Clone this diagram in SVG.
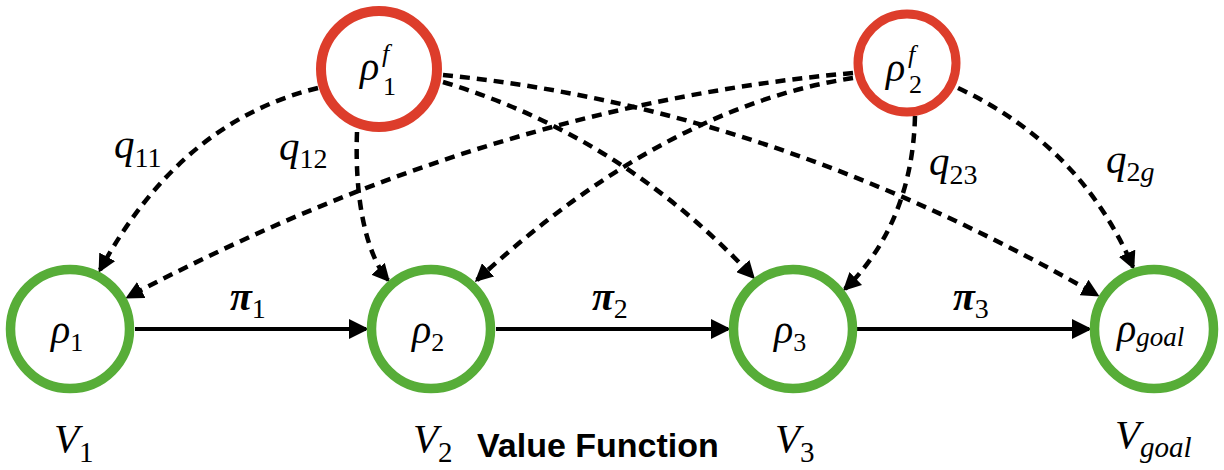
<svg xmlns="http://www.w3.org/2000/svg" width="1224" height="470" viewBox="0 0 1224 470">
<defs>
<style>
.red{fill:#fff;stroke:#DD3D2B;stroke-width:10}
.green{fill:#fff;stroke:#57AD38;stroke-width:9.5}
.dash{fill:none;stroke:#000;stroke-width:4.5;stroke-dasharray:10 7}
.solid{fill:none;stroke:#000;stroke-width:4}
.m{font-family:"Liberation Serif","Times New Roman",serif;font-style:italic;fill:#000}
.n{font-style:normal}
.b{font-weight:bold}
.vf{font-family:"Liberation Sans",Arial,sans-serif;font-weight:bold;font-size:34px;fill:#000}
</style>
<marker id="ad" markerUnits="userSpaceOnUse" viewBox="0 0 18 18" markerWidth="18" markerHeight="18" refX="15" refY="9" orient="auto">
<path d="M0,0 L18,9 L0,18 z" fill="#000"/>
</marker>
<marker id="as" markerUnits="userSpaceOnUse" viewBox="0 0 20 20" markerWidth="20" markerHeight="20" refX="17" refY="10" orient="auto">
<path d="M0,0 L20,10 L0,20 z" fill="#000"/>
</marker>
</defs>
<rect width="1224" height="470" fill="#fff"/>

<g id="edges">
<path class="solid" d="M135,329 H366" marker-end="url(#as)"/>
<path class="solid" d="M496,329 H728" marker-end="url(#as)"/>
<path class="solid" d="M857,329 H1089" marker-end="url(#as)"/>
<path class="dash" d="M318,88 Q181,121 100,270" marker-end="url(#ad)"/>
<path class="dash" d="M357,132 C354,215 372,262 388,280" marker-end="url(#ad)"/>
<path class="dash" d="M443,82 Q622,136 753,277" marker-end="url(#ad)"/>
<path class="dash" d="M443,75 Q770,107 1097,295" marker-end="url(#ad)"/>
<path class="dash" d="M853,73 Q490,105 128,297" marker-end="url(#ad)"/>
<path class="dash" d="M853,78 Q665,107 477,280" marker-end="url(#ad)"/>
<path class="dash" d="M915,116 C913,200 880,255 845,289" marker-end="url(#ad)"/>
<path class="dash" d="M958,88 Q1080,145 1133,267" marker-end="url(#ad)"/>
<text class="m b" x="230" y="310" font-size="40">π<tspan class="n" font-weight="normal" font-size="28" dy="8">1</tspan></text>
<text class="m b" x="592" y="310" font-size="40">π<tspan class="n" font-weight="normal" font-size="28" dy="8">2</tspan></text>
<text class="m b" x="953" y="310" font-size="40">π<tspan class="n" font-weight="normal" font-size="28" dy="8">3</tspan></text>
<text class="m" x="114" y="158" font-size="41">q<tspan class="n" font-size="28" dy="9">11</tspan></text>
<text class="m" x="279" y="160" font-size="41">q<tspan class="n" font-size="28" dy="8">12</tspan></text>
<text class="m" x="929" y="175" font-size="41">q<tspan class="n" font-size="28" dy="9">23</tspan></text>
<text class="m" x="1106" y="173" font-size="41">q<tspan class="n" font-size="28" dy="8">2</tspan><tspan font-size="28">g</tspan></text>
</g>

<g id="rho1f">
<circle class="red" cx="379" cy="69" r="58"/>
<text class="m" x="360" y="80" font-size="40">ρ</text>
<text class="m" x="382" y="62" font-size="26">f</text>
<text class="m n" x="383" y="95" font-size="26">1</text>
</g>
<g id="rho2f">
<circle class="red" cx="907" cy="63" r="49" style="stroke-width:9"/>
<text class="m" x="886" y="81" font-size="40">ρ</text>
<text class="m" x="908" y="63" font-size="26">f</text>
<text class="m n" x="909" y="93" font-size="26">2</text>
</g>

<g id="rho1">
<circle class="green" cx="70" cy="329" r="59.5"/>
<text class="m" x="51" y="343" font-size="40">ρ<tspan class="n" font-size="26" dy="8">1</tspan></text>
<text class="m" x="54" y="452" font-size="41">V<tspan class="n" font-size="29" dy="10">1</tspan></text>
</g>
<g id="rho2">
<circle class="green" cx="431" cy="329" r="59.5"/>
<text class="m" x="412" y="343" font-size="40">ρ<tspan class="n" font-size="26" dy="8">2</tspan></text>
<text class="m" x="413" y="452" font-size="41">V<tspan class="n" font-size="29" dy="10">2</tspan></text>
</g>
<g id="rho3">
<circle class="green" cx="793" cy="329" r="59.5"/>
<text class="m" x="774" y="343" font-size="40">ρ<tspan class="n" font-size="26" dy="8">3</tspan></text>
<text class="m" x="775" y="452" font-size="41">V<tspan class="n" font-size="29" dy="10">3</tspan></text>
</g>
<g id="rhogoal">
<circle class="green" cx="1154" cy="329" r="59.5"/>
<text class="m" x="1117" y="342" font-size="40">ρ<tspan font-size="27" dy="4">goal</tspan></text>
<text class="m" x="1115" y="448" font-size="41">V<tspan font-size="29" dy="9">goal</tspan></text>
</g>
<g id="value-function">
<text class="vf" x="477" y="457">Value Function</text>
</g>
</svg>
